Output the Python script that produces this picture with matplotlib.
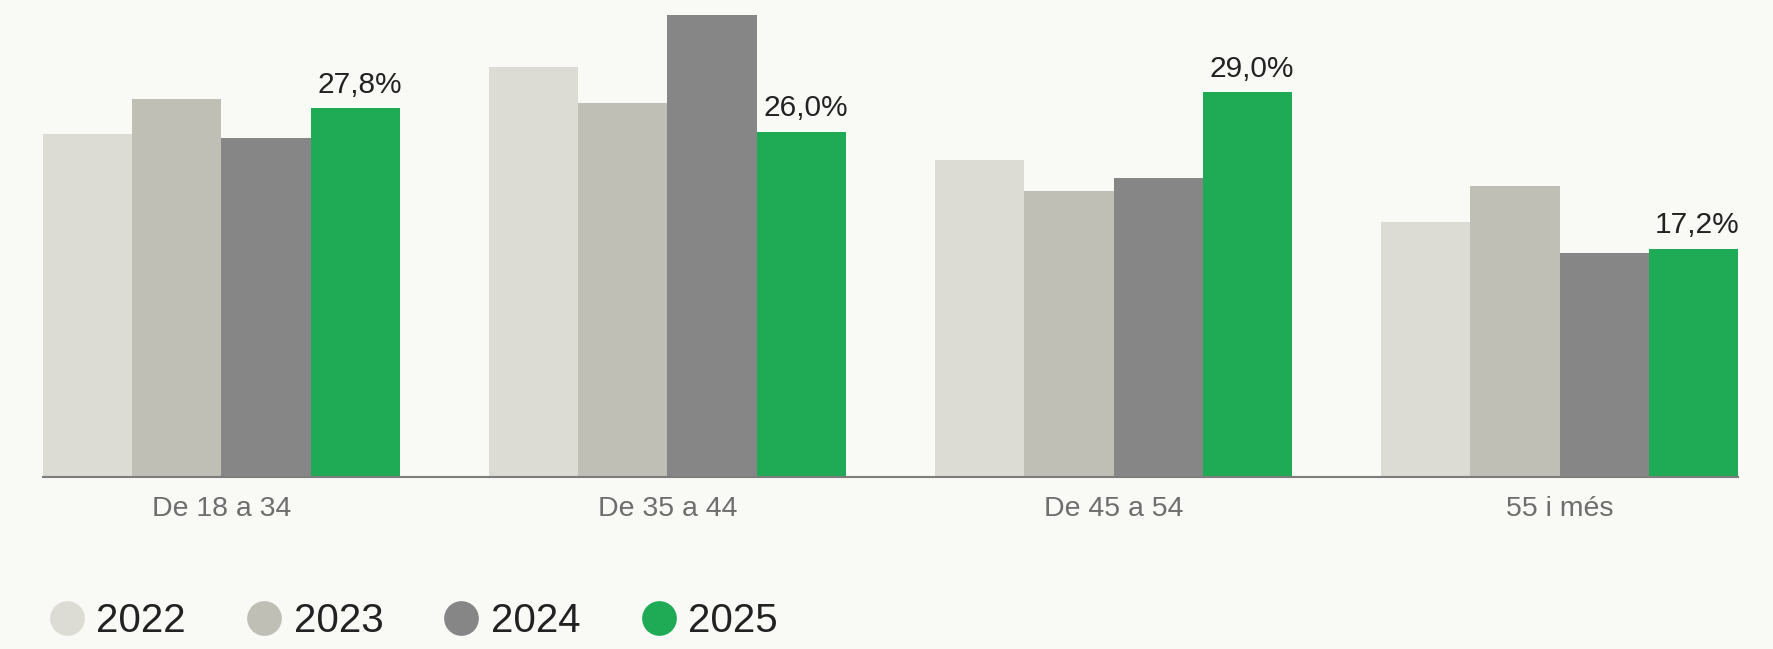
import matplotlib.pyplot as plt
import numpy as np
from matplotlib.lines import Line2D

plt.rcParams['font.family'] = ['Liberation Sans', 'DejaVu Sans']

# Dades: percentatge per franja d'edat i any
grups = ['De 18 a 34', 'De 35 a 44', 'De 45 a 54', '55 i més']
anys = ['2022', '2023', '2024', '2025']
v2022 = [25.8, 30.9, 23.9, 19.2]
v2023 = [28.5, 28.2, 21.5, 21.9]
v2024 = [25.5, 34.8, 22.5, 16.9]
v2025 = [27.8, 26.0, 29.0, 17.2]
etiquetes_2025 = ['27,8%', '26,0%', '29,0%', '17,2%']

colors = ['#dcdcd4', '#bfbfb6', '#868686', '#1faa55']
fons = '#f9f9f5'

fig = plt.figure(figsize=(17.73, 6.49), dpi=100, facecolor=fons)
ax = fig.add_axes([43 / 1773, 1 - 477 / 649, (1738 - 43) / 1773, 477 / 649])
ax.set_facecolor(fons)

x = np.arange(len(grups))
amplada = 0.2
series = [v2022, v2023, v2024, v2025]
for i, (vals, c) in enumerate(zip(series, colors)):
    bars = ax.bar(x + (i - 1.5) * amplada, vals, amplada, color=c, zorder=2)
    if i == 3:
        for b, txt in zip(bars, etiquetes_2025):
            ax.annotate(txt, (b.get_x() + b.get_width() / 2, b.get_height()),
                        xytext=(3, 11), textcoords='offset points',
                        ha='center', va='baseline', fontsize=21.5, color='#222222')

ax.set_xlim(-0.4, 3.4)
ax.set_ylim(0, 477 / 13.28)
ax.set_xticks(x)
ax.set_xticklabels(grups, fontsize=20.5, color='#6e6e6e')
ax.tick_params(axis='x', length=0, pad=14)
ax.set_yticks([])
for s in ['top', 'right', 'left']:
    ax.spines[s].set_visible(False)
ax.spines['bottom'].set_color('#7d7d7d')
ax.spines['bottom'].set_linewidth(1.5)
ax.spines['bottom'].set_zorder(3)

# Llegenda amb cercles
handles = [Line2D([], [], marker='o', ls='', markersize=25, color=c, markeredgewidth=0)
           for c in colors]
fig.legend(handles, anys, loc='center left', bbox_to_anchor=(49 / 1773, 28 / 649),
           ncol=4, frameon=False, fontsize=29, handlelength=0.875,
           handletextpad=0.3, columnspacing=1.5, borderpad=0, borderaxespad=0,
           labelcolor='#222222')

fig.savefig('out.png', dpi=100, facecolor=fons)
